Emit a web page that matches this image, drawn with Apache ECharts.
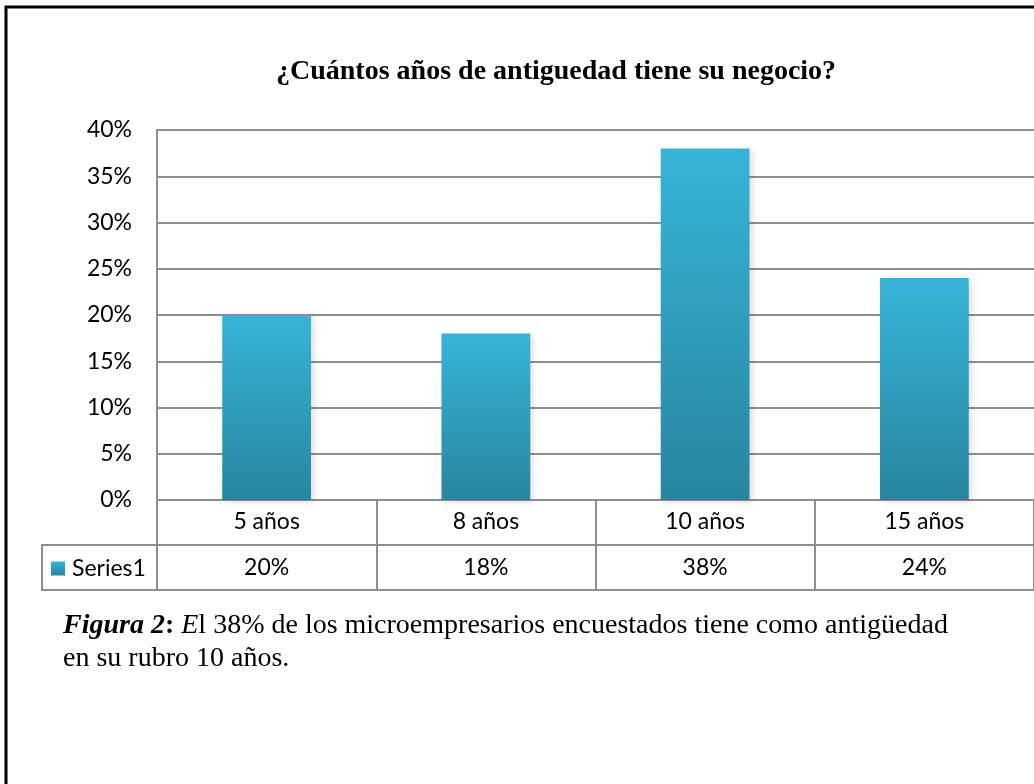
<!DOCTYPE html>
<html>
<head>
<meta charset="utf-8">
<script src="https://cdn.jsdelivr.net/npm/echarts@6/dist/echarts.min.js"></script>
<style>html,body{margin:0;padding:0;background:#fff;}#chart{width:1034px;height:784px;}</style>
</head>
<body>
<div id="chart"></div>
<script>
const categories = ['5 años', '8 años', '10 años', '15 años'];
const seriesName = 'Series1';
const values = [20, 18, 38, 24];
const yTicks = [0, 5, 10, 15, 20, 25, 30, 35, 40];
const titleText = '¿Cuántos años de antiguedad tiene su negocio?';

const chart = echarts.init(document.getElementById('chart'));
const gridColor = '#8e8e8e';
const uiFont = 'Lato, "Open Sans", sans-serif';
const serif = '"Liberation Serif", "Times New Roman", serif';
const fs = 23;

chart.setOption({
  animation: false,
  backgroundColor: '#ffffff',
  title: {
    text: titleText,
    left: 271, top: 53,
    textStyle: { fontFamily: serif, fontWeight: 'bold', fontSize: 28, color: '#000' }
  },
  legend: {
    left: 46, top: 552,
    icon: 'rect', itemWidth: 14, itemHeight: 14, itemGap: 5,
    textStyle: { fontFamily: uiFont, fontSize: fs, color: '#000', padding: [0,0,0,2] },
    data: [seriesName]
  },
  grid: { left: 157, top: 130, bottom: 284, right: -3 },
  xAxis: [
    {
      type: 'category', data: categories, position: 'bottom',
      axisLine: { show: true, lineStyle: { color: gridColor, width: 2 } },
      axisTick: { show: true, length: 90, interval: 0, lineStyle: { color: gridColor, width: 2 } },
      axisLabel: { margin: 10, fontFamily: uiFont, fontSize: fs, color: '#000', interval: 0 }
    },
    {
      type: 'category', data: categories, position: 'bottom', offset: 45,
      axisLine: { show: true, lineStyle: { color: gridColor, width: 2 } },
      axisTick: { show: false },
      axisLabel: { margin: 11, fontFamily: uiFont, fontSize: fs, color: '#000', interval: 0,
        formatter: (v, i) => values[i] + '%' }
    },
    {
      type: 'category', data: categories, position: 'bottom', offset: 90,
      axisLine: { show: true, lineStyle: { color: gridColor, width: 2 } },
      axisTick: { show: false }, axisLabel: { show: false }
    }
  ],
  yAxis: {
    type: 'value', min: yTicks[0], max: yTicks[yTicks.length - 1], interval: 5,
    axisLine: { show: true, lineStyle: { color: gridColor, width: 2 } },
    axisTick: { show: false },
    splitLine: { lineStyle: { color: gridColor, width: 2 } },
    axisLabel: { margin: 25, fontFamily: uiFont, fontSize: fs, color: '#000', formatter: '{value}%' }
  },
  series: [{
    name: seriesName, type: 'bar', data: values, barWidth: '40.5%', xAxisIndex: 0,
    itemStyle: {
      color: new echarts.graphic.LinearGradient(0, 0, 0, 1, [
        { offset: 0, color: '#36b4d8' },
        { offset: 1, color: '#27869f' }
      ]),
      shadowColor: 'rgba(0,0,0,0.12)', shadowBlur: 6, shadowOffsetX: 3, shadowOffsetY: 2
    }
  }],
  graphic: [
    { type: 'rect', shape: { x: 6, y: 7, width: 1200, height: 1000 },
      style: { fill: 'none', stroke: '#000', lineWidth: 3 }, silent: true },
    { type: 'polyline', shape: { points: [[157, 545], [42, 545], [42, 590], [157, 590]] },
      style: { fill: 'none', stroke: gridColor, lineWidth: 2 }, silent: true },
    { type: 'text', left: 63, top: 609,
      style: {
        fontFamily: serif, fontSize: 28, fill: '#000', lineHeight: 33,
        text: '{bi|Figura 2}{b|:} {i|E}l 38% de los microempresarios encuestados tiene como antigüedad\n{r|en su rubro 10 años.}',
        rich: {
          bi: { fontFamily: serif, fontSize: 28, lineHeight: 33, fontWeight: 'bold', fontStyle: 'italic', fill: '#000' },
          b: { fontFamily: serif, fontSize: 28, lineHeight: 33, fontWeight: 'bold', fill: '#000' },
          i: { fontFamily: serif, fontSize: 28, lineHeight: 33, fontStyle: 'italic', fill: '#000' },
          r: { fontFamily: serif, fontSize: 28, lineHeight: 33, fill: '#000' }
        }
      }
    }
  ]
});
</script>
</body>
</html>
